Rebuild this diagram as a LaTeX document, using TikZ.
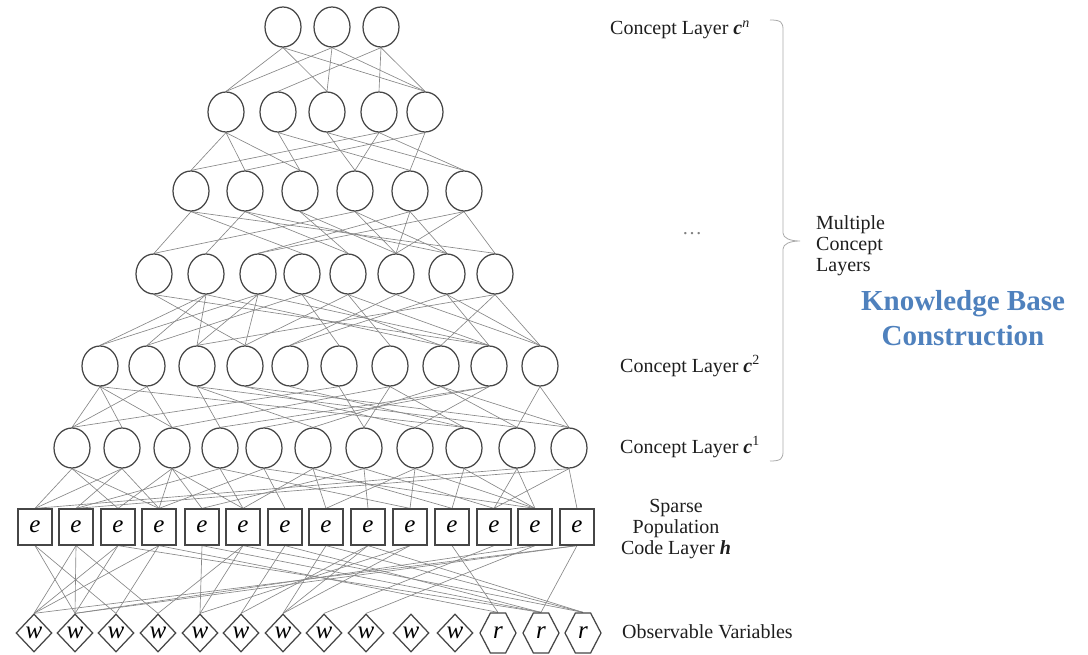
\documentclass[tikz,border=0pt]{standalone}
\usepackage{fontspec}
\setmainfont{Liberation Serif}
\usetikzlibrary{shapes.geometric,shapes.symbols,backgrounds}
\definecolor{nodegray}{RGB}{70,70,70}
\definecolor{linegray}{RGB}{135,135,135}
\definecolor{bracegray}{RGB}{170,170,170}
\definecolor{kbblue}{RGB}{79,129,189}
\definecolor{txt}{RGB}{30,30,30}
\tikzset{
  cnode/.style={ellipse, draw=nodegray, line width=1.25pt, fill=white,
    minimum width=36pt, minimum height=40pt, inner sep=0pt},
  enode/.style={rectangle, draw=nodegray, line width=1.25pt, fill=white,
    minimum width=34pt, minimum height=36pt, inner sep=0pt,
    font=\itshape\fontsize{25}{25}\selectfont},
  wnode/.style={diamond, draw=nodegray, line width=1.25pt, fill=white,
    minimum width=36pt, minimum height=38pt, inner sep=0pt,
    font=\itshape\fontsize{25}{25}\selectfont},
  rnode/.style={signal, signal to=east and west, signal pointer angle=125,
    draw=nodegray, line width=1.25pt, fill=white,
    minimum width=36pt, minimum height=40pt, inner sep=0pt,
    font=\itshape\fontsize{25}{25}\selectfont},
  conn/.style={draw=linegray, line width=0.65pt},
  lbl/.style={text=txt, inner sep=0pt, font=\fontsize{20}{21}\selectfont},
  kb/.style={text=kbblue, inner sep=0pt, align=center,
    font=\bfseries\fontsize{29}{35}\selectfont},
}
\begin{document}
\begin{tikzpicture}[x=1pt,y=-1pt]
\useasboundingbox (0,0) rectangle (1088,655);

% concept layers, top (c^n) down to c^1
\foreach \x [count=\i] in {283,332,381} \node[cnode] (t\i) at (\x,27) {};
\foreach \x [count=\i] in {226,278,327,379,425} \node[cnode] (u\i) at (\x,112) {};
\foreach \x [count=\i] in {191,245,300,355,410,464} \node[cnode] (v\i) at (\x,191) {};
\foreach \x [count=\i] in {154,206,258,302,348,396,447,495} \node[cnode] (w\i) at (\x,274) {};
\foreach \x [count=\i] in {100,147,197,245,290,339,390,441,489,540} \node[cnode] (b\i) at (\x,366) {};
\foreach \x [count=\i] in {72,122,172,220,264,313,364,415,464,517,569} \node[cnode] (a\i) at (\x,448) {};

% sparse population code layer
\foreach \x [count=\i] in {35,76,118,159,202,243,285,326,368,410,452,494,535,577}
  \node[enode] (e\i) at (\x,527) {e};

% observable variables
\foreach \x [count=\i] in {34,75,116,158,200,241,283,324,366,411,455}
  \node[wnode] (o\i) at (\x,633) {w};
\foreach \x [count=\j] in {498,541,583} {
  \pgfmathtruncatemacro{\i}{\j+11}
  \node[rnode] (o\i) at (\x,633) {r};
}

% connections between layers
\begin{scope}[on background layer]
\foreach \p/\q in {1/1,1/3,1/5,2/1,2/3,2/5,3/2,3/4,3/5}
  \draw[conn] (t\p.south) -- (u\q.north);
\foreach \p/\q in {1/1,1/2,1/3,2/3,2/5,3/4,3/6,4/1,4/4,4/6,5/2,5/5}
  \draw[conn] (u\p.south) -- (v\q.north);
\foreach \p/\q in {1/1,1/4,1/8,2/2,2/5,2/7,3/5,3/6,4/1,4/6,4/7,5/3,5/6,5/7,6/3,6/6,6/8}
  \draw[conn] (v\p.south) -- (w\q.north);
\foreach \p/\q in {1/4,1/9,2/1,2/2,2/3,2/8,3/1,3/3,3/4,3/9,4/2,4/6,4/8,5/4,5/7,5/9,6/5,6/10,7/5,7/9,7/10,8/3,8/8,8/10}
  \draw[conn] (w\p.south) -- (b\q.north);
\foreach \p/\q in {1/1,1/2,1/3,1/9,2/1,2/3,3/4,3/6,3/10,4/8,4/11,5/9,6/1,6/7,7/3,7/7,7/9,8/6,8/10,8/11,9/4,9/5,9/8,10/10,10/11}
  \draw[conn] (b\p.south) -- (a\q.north);
\foreach \p/\q in {1/1,1/3,1/4,2/1,2/2,2/4,3/3,3/4,3/5,3/6,4/2,4/6,4/10,5/4,5/7,5/13,6/6,6/8,6/11,7/5,7/9,7/12,8/8,8/10,8/13,9/11,9/13,10/1,10/12,10/13,11/2,11/12,11/14}
  \draw[conn] (a\p.south) -- (e\q.north);
\foreach \p/\q in {1/2,1/3,2/1,2/2,2/4,3/1,3/2,3/13,4/1,4/3,4/12,5/5,5/13,6/4,6/5,6/14,7/6,7/13,8/7,8/14,9/6,9/7,9/14,10/5,10/7,11/12,12/8,13/2,13/9,14/1,14/2,14/13}
  \draw[conn] (e\p.south) -- (o\q.north);
\end{scope}

% layer labels
\node[lbl, anchor=base west] (ln) at (610,35) {Concept Layer \textbf{\textit{c}}\textsuperscript{\textit{n}}};
\node[lbl, text=gray] (dots) at (692,234) {\dots};
\node[lbl, anchor=base west] (l2) at (620,372) {Concept Layer \textbf{\textit{c}}\textsuperscript{2}};
\node[lbl, anchor=base west] (l1) at (620,453) {Concept Layer \textbf{\textit{c}}\textsuperscript{1}};
\node[lbl, align=center] (lh) at (676,529) {Sparse\\Population\\Code Layer \textbf{\textit{h}}};
\node[lbl, anchor=base west] (lo) at (622,638) {Observable Variables};

% brace grouping the concept layers
\coordinate (bt) at (770,20);
\coordinate (bm) at (800,241);
\coordinate (bb) at (770,461);
\draw[bracegray, line width=0.8pt]
  (bt) .. controls (781,20) and (783,22) .. (783,30) -- (783,233)
  .. controls (783,238) and (790,241) .. (bm)
  .. controls (790,241) and (783,244) .. (783,249) -- (783,451)
  .. controls (783,459) and (781,461) .. (bb);
\node[lbl, align=left, anchor=west] (lm) at (816,246) {Multiple\\Concept\\Layers};

\node[kb] (kbc) at (963,318) {Knowledge Base\\Construction};
\end{tikzpicture}
\end{document}
